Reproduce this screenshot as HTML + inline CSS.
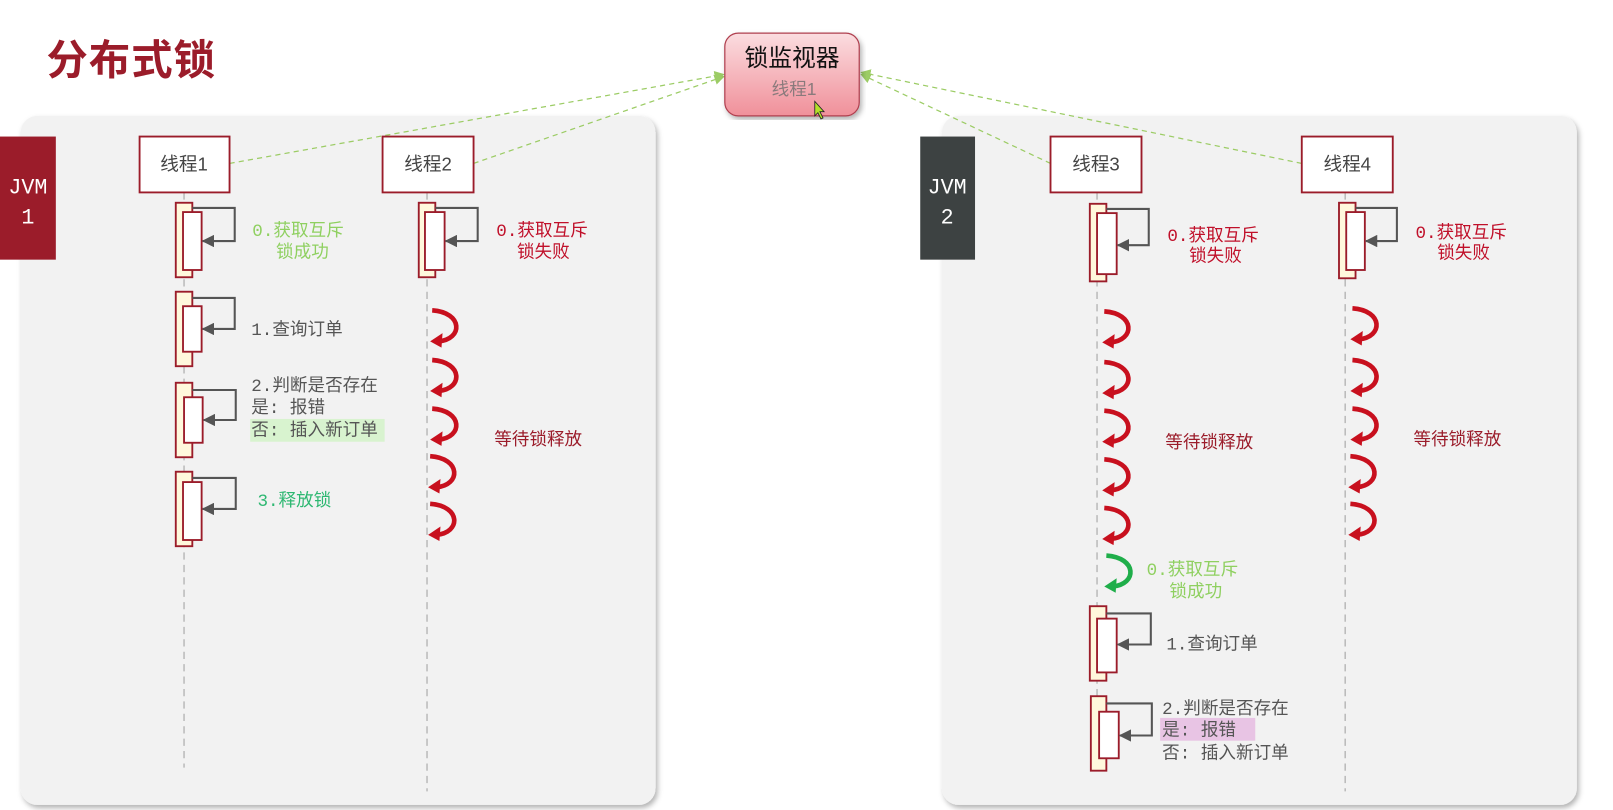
<!DOCTYPE html>
<html><head><meta charset="utf-8"><style>
html,body{margin:0;padding:0;background:#fff;width:1613px;height:810px;overflow:hidden}
svg{display:block}
text{font-family:"Liberation Mono","Noto Sans CJK SC",monospace}
.s{font-family:"Liberation Sans","Noto Sans CJK SC",sans-serif}
</style></head><body>
<svg width="1613" height="810" viewBox="0 0 1560 783" preserveAspectRatio="none" xmlns="http://www.w3.org/2000/svg">
<defs>
<linearGradient id="pg" x1="0" y1="0" x2="0" y2="1"><stop offset="0" stop-color="#fbdde0"/><stop offset="1" stop-color="#f0909a"/></linearGradient>
<filter id="sh" x="-5%" y="-5%" width="110%" height="110%"><feDropShadow dx="2" dy="3" stdDeviation="2.5" flood-color="#000" flood-opacity="0.3"/></filter>
<marker id="ga" markerWidth="10" markerHeight="10" refX="9" refY="5" orient="auto" markerUnits="userSpaceOnUse"><path d="M0,0 L10,5 L0,10 z" fill="#9ccc65"/></marker>
<marker id="da" markerWidth="12" markerHeight="12" refX="11" refY="6" orient="auto" markerUnits="userSpaceOnUse"><path d="M0,0 L12,6 L0,12 z" fill="#555"/></marker>
<g id="curl"><path d="M0,0 C30,2 30,28 6,30" fill="none" stroke="#c8101e" stroke-width="4.5"/><path d="M-2,30 L10,22 L9,36 z" fill="#c8101e"/></g>
<g id="gcurl"><path d="M0,0 C30,2 30,28 6,30" fill="none" stroke="#1fae4a" stroke-width="4.5"/><path d="M-2,30 L10,22 L9,36 z" fill="#1fae4a"/></g>
</defs>

<text x="45" y="72" class="s" font-size="40" font-weight="bold" fill="#9b1c2a" letter-spacing="1">分布式锁</text>

<rect x="20" y="112" width="614" height="666" rx="16" fill="#f2f2f2" filter="url(#sh)"/>
<rect x="911" y="112" width="614" height="666" rx="16" fill="#f2f2f2" filter="url(#sh)"/>

<g stroke="#9ccc65" stroke-width="1.2" stroke-dasharray="5,4" fill="none">
<line x1="222" y1="158" x2="700" y2="72" marker-end="url(#ga)"/>
<line x1="458" y1="158" x2="700" y2="74" marker-end="url(#ga)"/>
<line x1="1016" y1="158" x2="833" y2="72" marker-end="url(#ga)"/>
<line x1="1259" y1="158" x2="833" y2="70" marker-end="url(#ga)"/>
</g>

<rect x="701" y="32" width="130" height="80" rx="13" fill="url(#pg)" stroke="#b04050" stroke-width="1.2" filter="url(#sh)"/>
<text x="766" y="64" class="s" font-size="23" text-anchor="middle" fill="#111">锁监视器</text>
<text x="768" y="92" class="s" font-size="17" text-anchor="middle" fill="#8a7a7c">线程1</text>
<path d="M788,98 L788,112 L791,109 L794,115 L796,114 L793,108 L797,108 z" fill="#b4e02a" stroke="#222" stroke-width="0.8"/>

<rect x="0" y="132" width="54" height="119" fill="#9b1c2a"/>
<text x="27" y="187" font-size="21" fill="#fff" text-anchor="middle">JVM</text>
<text x="27" y="216" font-size="21" fill="#fff" text-anchor="middle">1</text>
<rect x="890" y="132" width="53" height="119" fill="#3d4242"/>
<text x="916" y="187" font-size="21" fill="#fff" text-anchor="middle">JVM</text>
<text x="916" y="216" font-size="21" fill="#fff" text-anchor="middle">2</text>

<g stroke="#bbb" stroke-width="1.5" stroke-dasharray="7,5">
<line x1="178" y1="186" x2="178" y2="742"/>
<line x1="413" y1="186" x2="413" y2="765"/>
<line x1="1061" y1="186" x2="1061" y2="745"/>
<line x1="1301" y1="186" x2="1301" y2="765"/>
</g>

<g fill="#fff" stroke="#9b1c2a" stroke-width="1.8">
<rect x="135" y="132" width="87" height="54"/>
<rect x="370" y="132" width="88" height="54"/>
<rect x="1016" y="132" width="88" height="54"/>
<rect x="1259" y="132" width="88" height="54"/>
</g>
<g font-size="18" fill="#444" text-anchor="middle">
<text x="178" y="165" class="s">线程1</text>
<text x="414" y="165" class="s">线程2</text>
<text x="1060" y="165" class="s">线程3</text>
<text x="1303" y="165" class="s">线程4</text>
</g>

<g stroke="#9b1c2a" stroke-width="1.8">
<rect x="170" y="196" width="16" height="72" fill="#fff8dc"/><rect x="177" y="205" width="18" height="56" fill="#fff"/>
<rect x="170" y="282" width="16" height="72" fill="#fff8dc"/><rect x="177" y="296" width="18" height="44" fill="#fff"/>
<rect x="170" y="370" width="16" height="72" fill="#fff8dc"/><rect x="178" y="384" width="18" height="44" fill="#fff"/>
<rect x="170" y="456" width="16" height="72" fill="#fff8dc"/><rect x="177" y="466" width="18" height="56" fill="#fff"/>
<rect x="405" y="196" width="16" height="72" fill="#fff8dc"/><rect x="411" y="205" width="19" height="56" fill="#fff"/>
<rect x="1054" y="197" width="16" height="75" fill="#fff8dc"/><rect x="1061" y="206" width="19" height="59" fill="#fff"/>
<rect x="1054" y="586" width="16" height="72" fill="#fff8dc"/><rect x="1061" y="598" width="19" height="52" fill="#fff"/>
<rect x="1055" y="673" width="15" height="72" fill="#fff8dc"/><rect x="1063" y="688" width="19" height="45" fill="#fff"/>
<rect x="1295" y="196" width="16" height="73" fill="#fff8dc"/><rect x="1302" y="205" width="18" height="56" fill="#fff"/>
</g>

<g fill="none" stroke="#555" stroke-width="2">
<path d="M186,201 H227 V233 H196" marker-end="url(#da)"/>
<path d="M186,288 H227 V318 H196" marker-end="url(#da)"/>
<path d="M186,377 H228 V406 H197" marker-end="url(#da)"/>
<path d="M186,462 H228 V492 H196" marker-end="url(#da)"/>
<path d="M421,201 H462 V233 H431" marker-end="url(#da)"/>
<path d="M1070,202 H1111 V237 H1081" marker-end="url(#da)"/>
<path d="M1311,201 H1351 V233 H1321" marker-end="url(#da)"/>
<path d="M1070,593 H1113 V623 H1081" marker-end="url(#da)"/>
<path d="M1070,680 H1114 V711 H1083" marker-end="url(#da)"/>
</g>

<use href="#curl" x="418" y="300"/><use href="#curl" x="418" y="348"/><use href="#curl" x="418" y="395"/><use href="#curl" x="416" y="441"/><use href="#curl" x="416" y="487"/>
<use href="#curl" x="1068" y="301"/><use href="#curl" x="1068" y="350"/><use href="#curl" x="1068" y="397"/><use href="#curl" x="1068" y="444"/><use href="#curl" x="1068" y="491"/>
<use href="#curl" x="1308" y="298"/><use href="#curl" x="1308" y="348"/><use href="#curl" x="1308" y="395"/><use href="#curl" x="1306" y="441"/><use href="#curl" x="1306" y="487"/>
<use href="#gcurl" x="1070" y="537"/>

<g font-size="17">
<text x="244" y="228" fill="#8fd060">0.获取互斥</text><text x="267" y="249" fill="#8fd060">锁成功</text>
<text x="243" y="324" fill="#555">1.查询订单</text>
<text x="243" y="378" fill="#555">2.判断是否存在</text>
<text x="243" y="399" fill="#555">是: 报错</text>
<rect x="242" y="405" width="130" height="22" fill="#d8f3cf"/>
<text x="243" y="421" fill="#555">否: 插入新订单</text>
<text x="249" y="489" fill="#2eb872">3.释放锁</text>
<text x="480" y="228" fill="#c0102a">0.获取互斥</text><text x="500" y="249" fill="#c0102a">锁失败</text>
<text x="478" y="430" class="s" fill="#9b1c2a">等待锁释放</text>

<text x="1129" y="233" fill="#c0102a">0.获取互斥</text><text x="1150" y="253" fill="#c0102a">锁失败</text>
<text x="1369" y="230" fill="#c0102a">0.获取互斥</text><text x="1390" y="250" fill="#c0102a">锁失败</text>
<text x="1127" y="433" class="s" fill="#9b1c2a">等待锁释放</text>
<text x="1367" y="430" class="s" fill="#9b1c2a">等待锁释放</text>
<text x="1109" y="556" fill="#8fd060">0.获取互斥</text><text x="1131" y="577" fill="#8fd060">锁成功</text>
<text x="1128" y="628" fill="#555">1.查询订单</text>
<text x="1124" y="690" fill="#555">2.判断是否存在</text>
<rect x="1122" y="694" width="92" height="22" fill="#e8c4e4"/>
<text x="1124" y="711" fill="#555">是: 报错</text>
<text x="1124" y="733" fill="#555">否: 插入新订单</text>
</g>
</svg>
</body></html>
